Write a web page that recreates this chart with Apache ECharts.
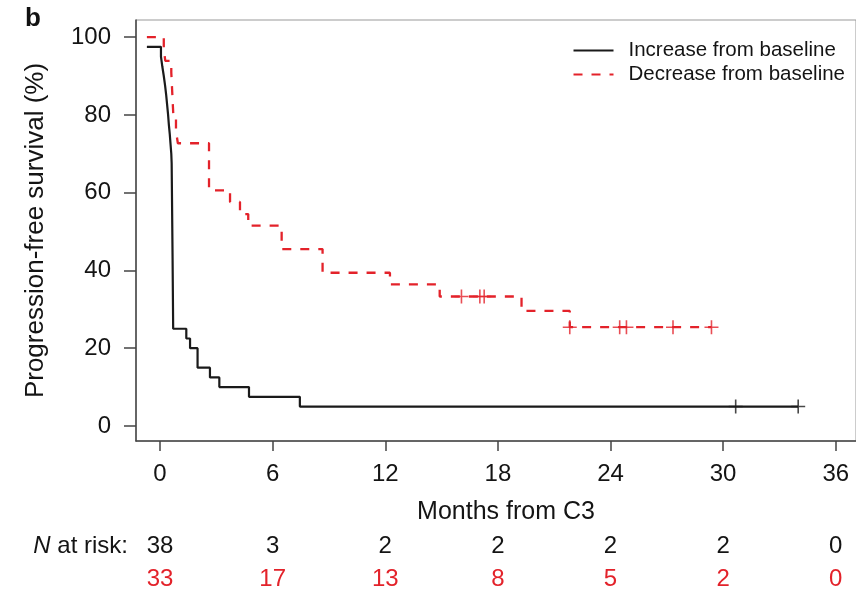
<!DOCTYPE html>
<html>
<head>
<meta charset="utf-8">
<script src="https://cdn.jsdelivr.net/npm/echarts@6/dist/echarts.min.js"></script>
<style>
  html, body { margin: 0; padding: 0; background: #fff; }
  #chart { width: 856px; height: 595px; }
</style>
</head>
<body>
<div id="chart"></div>
<script>
// curves, [month, PFS %]
var increaseCurve = [
  [-0.7, 97.5], [0.05, 95], [0.12, 92.5], [0.2, 90], [0.27, 87.5], [0.33, 85],
  [0.38, 82.5], [0.43, 80], [0.47, 77.5], [0.52, 75], [0.56, 72.5], [0.6, 70],
  [0.62, 67.5], [0.64, 57.5], [0.67, 42.5], [0.7, 25], [1.4, 22.5], [1.6, 20],
  [2.0, 15], [2.66, 12.5], [3.16, 10], [4.74, 7.5], [7.45, 5], [34.0, 5]
];
var decreaseCurve = [
  [-0.7, 100], [0.2, 97.0], [0.28, 93.9], [0.6, 90.9], [0.63, 87.9], [0.66, 84.8],
  [0.69, 81.8], [0.72, 78.8], [0.85, 75.8], [0.95, 72.7], [2.61, 60.6], [3.73, 57.6],
  [4.26, 54.5], [4.7, 51.5], [6.48, 45.5], [8.66, 39.4], [12.25, 36.4], [14.9, 33.3],
  [19.26, 29.6], [21.83, 25.4], [29.38, 25.4]
];
var increaseCensored = [[30.67, 5], [34.0, 5]];
var decreaseCensored = [
  [16.06, 33.3], [17.04, 33.3], [17.27, 33.3], [21.83, 25.4],
  [24.49, 25.4], [24.85, 25.4], [27.33, 25.4], [29.38, 25.4]
];
var monthTicks = [0, 6, 12, 18, 24, 30, 36];
var pctTicks = [0, 20, 40, 60, 80, 100];
var riskIncrease = [38, 3, 2, 2, 2, 2, 0];
var riskDecrease = [33, 17, 13, 8, 5, 2, 0];

var BLACK = '#1a1a1a';
var RED = '#e3222a';
var TXT = '#141414';
var FONT = "'Liberation Sans', Arial, Helvetica, sans-serif";
var X_MIN = -1.28, X_MAX = 37.08;
var plus = 'path://M-0.8,-7L0.8,-7L0.8,-0.8L7,-0.8L7,0.8L0.8,0.8L0.8,7L-0.8,7L-0.8,0.8L-7,0.8L-7,-0.8L-0.8,-0.8Z';

var chart = echarts.init(document.getElementById('chart'));

function riskAxis(counts, color, offset) {
  return {
    type: 'value', min: X_MIN, max: X_MAX, position: 'bottom', offset: offset,
    axisLine: { show: false, onZero: false }, axisTick: { show: false }, splitLine: { show: false },
    axisLabel: {
      customValues: monthTicks, margin: 18, color: color, fontSize: 24, fontFamily: FONT,
      formatter: function (v) { return String(counts[monthTicks.indexOf(v)]); }
    }
  };
}

chart.setOption({
  animation: false,
  textStyle: { fontFamily: FONT },
  grid: { left: 136, right: -2, top: 20, bottom: 154, show: true, borderColor: '#999', borderWidth: 1 },
  legend: {
    data: ['Increase from baseline', 'Decrease from baseline'],
    orient: 'vertical', right: 6, top: 35, itemWidth: 40, itemHeight: 14, itemGap: 3,
    itemStyle: { opacity: 0 },
    textStyle: { fontSize: 20.5, color: TXT, lineHeight: 20, padding: [0, 0, 0, 10] }
  },
  xAxis: [
    {
      type: 'value', min: X_MIN, max: X_MAX,
      name: 'Months from C3', nameLocation: 'middle', nameGap: 59,
      nameTextStyle: { fontSize: 25, color: TXT, padding: [0, 0, 0, 20] },
      axisLine: { onZero: false, lineStyle: { color: '#444', width: 1.5 } },
      axisTick: { customValues: monthTicks, length: 10, lineStyle: { color: '#444', width: 1.5 } },
      axisLabel: { customValues: monthTicks, margin: 21, fontSize: 24, color: TXT },
      splitLine: { show: false }
    },
    riskAxis(riskIncrease, TXT, 75),
    riskAxis(riskDecrease, RED, 108)
  ],
  yAxis: {
    type: 'value', min: -3.86, max: 104.4,
    name: 'Progression-free survival (%)', nameLocation: 'middle', nameGap: 87,
    nameTextStyle: { fontSize: 26, color: TXT },
    axisLine: { show: true, onZero: false, lineStyle: { color: '#444', width: 1.5 } },
    axisTick: { show: true, customValues: pctTicks, length: 12, lineStyle: { color: '#444', width: 1.5 } },
    axisLabel: { customValues: pctTicks, margin: 25, fontSize: 24, color: TXT },
    splitLine: { show: false }
  },
  graphic: [
    { type: 'text', left: 25, top: 6, style: { text: 'b', font: 'bold 26px ' + FONT, fill: '#111' } },
    {
      type: 'text', x: 128, y: 546,
      style: {
        text: '{i|N} at risk:', align: 'right', verticalAlign: 'middle',
        font: '24px ' + FONT, fill: TXT,
        rich: { i: { fontStyle: 'italic', fontSize: 24, fontFamily: FONT } }
      }
    }
  ],
  series: [
    {
      name: 'Increase from baseline', type: 'line', step: 'end', symbol: 'none',
      data: increaseCurve, lineStyle: { color: BLACK, width: 2.2 }, itemStyle: { color: BLACK }
    },
    {
      name: 'Decrease from baseline', type: 'line', step: 'end', symbol: 'none',
      data: decreaseCurve, lineStyle: { color: RED, width: 2.3, type: [9, 9] }, itemStyle: { color: RED }
    },
    {
      name: 'inc-censor', type: 'scatter', symbol: plus, symbolSize: 14,
      data: increaseCensored, itemStyle: { color: BLACK }
    },
    {
      name: 'dec-censor', type: 'scatter', symbol: plus, symbolSize: 14,
      data: decreaseCensored, itemStyle: { color: RED }
    }
  ]
});
</script>
</body>
</html>
